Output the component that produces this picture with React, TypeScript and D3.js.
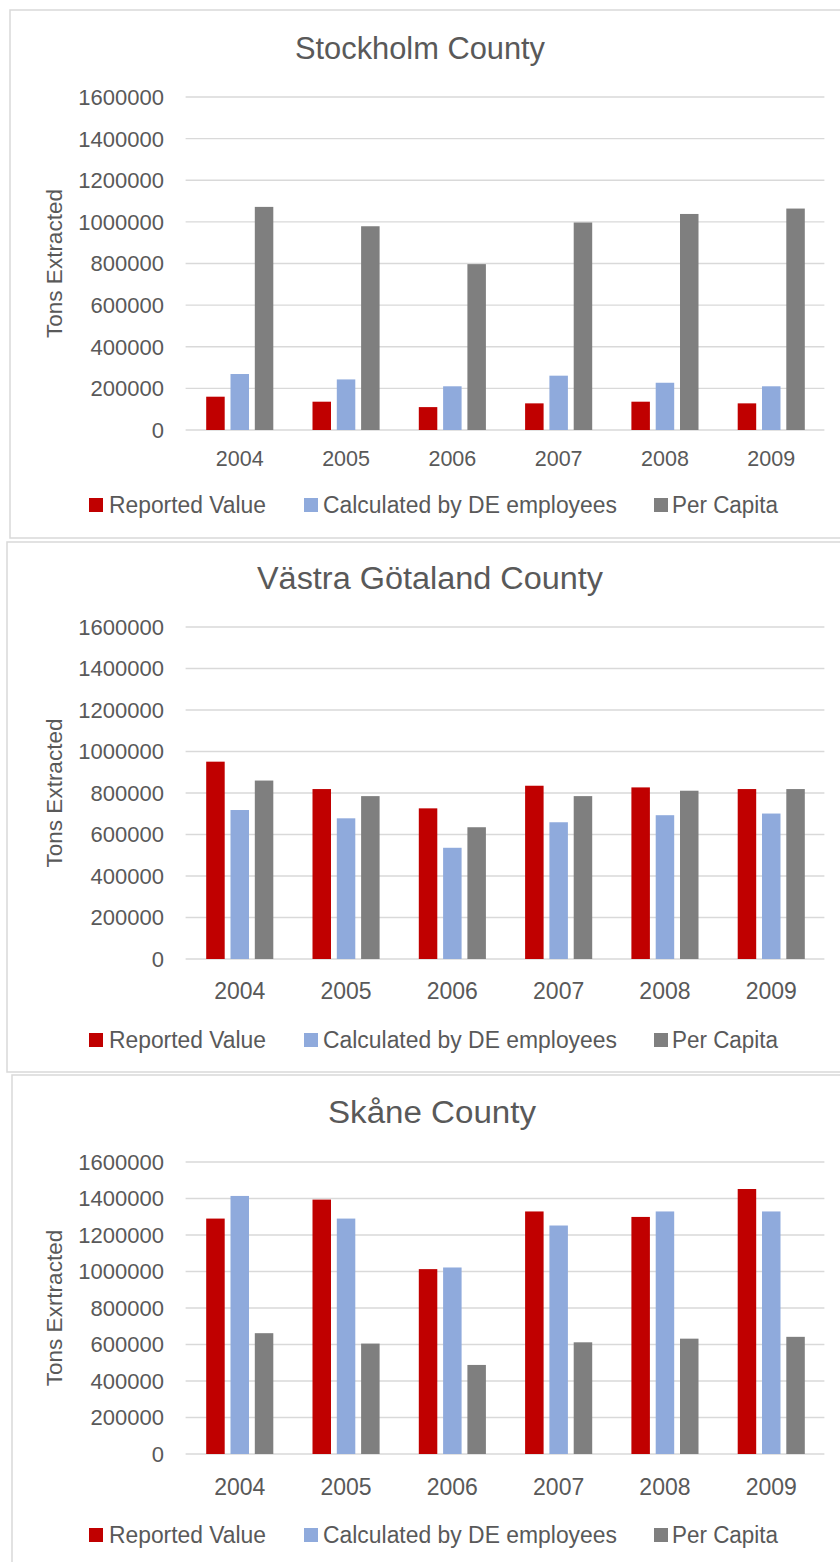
import React from 'react';
import * as d3 from 'd3';

const years = ['2004', '2005', '2006', '2007', '2008', '2009'];
const seriesNames = ['Reported Value', 'Calculated by DE employees', 'Per Capita'];
const seriesColors = ['#C00000', '#8FAADC', '#7F7F7F'];
const yTicks = [0, 200000, 400000, 600000, 800000, 1000000, 1200000, 1400000, 1600000];

const stockholmReported = [160000, 136000, 110000, 128000, 136000, 128000];
const stockholmCalculated = [269000, 243000, 210000, 261000, 227000, 210000];
const stockholmPerCapita = [1072000, 979000, 797000, 997000, 1038000, 1064000];

const vastraReported = [951000, 819000, 726000, 835000, 827000, 819000];
const vastraCalculated = [718000, 678000, 536000, 659000, 693000, 701000];
const vastraPerCapita = [860000, 785000, 635000, 785000, 811000, 819000];

const skaneReported = [1290000, 1394000, 1013000, 1329000, 1299000, 1452000];
const skaneCalculated = [1414000, 1290000, 1022000, 1252000, 1329000, 1329000];
const skanePerCapita = [662000, 605000, 488000, 612000, 632000, 642000];

const panelTitles = ['Stockholm County', 'Västra Götaland County', 'Skåne County'];
const yAxisTitles = ['Tons Extracted', 'Tons Extracted', 'Tons Exrtracted'];
const panelSeries = [
  [stockholmReported, stockholmCalculated, stockholmPerCapita],
  [vastraReported, vastraCalculated, vastraPerCapita],
  [skaneReported, skaneCalculated, skanePerCapita],
];

const layouts = [
  { boxX: 10, boxY: 10, boxB: 538, titleX: 420, titleW: 250, titleY: 59, top: 97, bottom: 430, xLabelY: 466, xFont: 21.5, legendY: 505 },
  { boxX: 7, boxY: 542, boxB: 1072, titleX: 430, titleW: 346, titleY: 589, top: 627, bottom: 959, xLabelY: 999, xFont: 23, legendY: 1040 },
  { boxX: 12, boxY: 1075, boxB: 1600, titleX: 432, titleW: 208, titleY: 1123, top: 1162, bottom: 1454, xLabelY: 1495, xFont: 23, legendY: 1535 },
];

const FONT = '"Liberation Sans", Arial, sans-serif';
const TEXT = '#595959';
const GRID = '#D9D9D9';

const legendSquareX = [89, 304, 654];
const legendTextX = [109, 323, 672];
const legendTextW = [157, 294, 106];

function Panel({ idx }: { idx: number }) {
  const L = layouts[idx];
  const data = panelSeries[idx];
  const x = d3.scaleBand<string>().domain(years).range([186.6, 824.4]).paddingInner(0).paddingOuter(0);
  const bw = x.bandwidth();
  const groupW = 67.1;
  const inner = d3
    .scaleBand<string>()
    .domain(seriesNames)
    .range([(bw - groupW) / 2, (bw + groupW) / 2])
    .paddingInner(0.239)
    .paddingOuter(0);
  const y = d3.scaleLinear().domain([0, 1600000]).range([L.bottom, L.top]);
  const xr = x.range();
  return (
    <g>
      <rect x={L.boxX} y={L.boxY} width={900} height={L.boxB - L.boxY} fill="#fff" stroke={GRID} strokeWidth={1.5} />
      <text
        x={L.titleX}
        y={L.titleY}
        textAnchor="middle"
        fontFamily={FONT}
        fontSize={31}
        fill={TEXT}
        textLength={L.titleW}
        lengthAdjust="spacingAndGlyphs"
      >
        {panelTitles[idx]}
      </text>
      {yTicks.map((t) => (
        <g key={t}>
          <line x1={xr[0] - 1} x2={xr[1]} y1={y(t)} y2={y(t)} stroke={GRID} strokeWidth={1.3} />
          <text x={164} y={y(t)} dy="0.36em" textAnchor="end" fontFamily={FONT} fontSize={22} fill={TEXT}>
            {t}
          </text>
        </g>
      ))}
      <text
        transform={`translate(62,${(L.top + L.bottom) / 2}) rotate(-90)`}
        textAnchor="middle"
        fontFamily={FONT}
        fontSize={22.5}
        fill={TEXT}
      >
        {yAxisTitles[idx]}
      </text>
      {years.map((yr, i) => (
        <g key={yr}>
          {seriesNames.map((s, j) => (
            <rect
              key={s}
              x={(x(yr) as number) + (inner(s) as number)}
              y={y(data[j][i])}
              width={inner.bandwidth()}
              height={y(0) - y(data[j][i])}
              fill={seriesColors[j]}
            />
          ))}
          <text
            x={(x(yr) as number) + bw / 2}
            y={L.xLabelY}
            textAnchor="middle"
            fontFamily={FONT}
            fontSize={L.xFont}
            fill={TEXT}
          >
            {yr}
          </text>
        </g>
      ))}
      {seriesNames.map((s, j) => (
        <g key={s}>
          <rect x={legendSquareX[j]} y={L.legendY - 7} width={14} height={14} fill={seriesColors[j]} />
          <text
            x={legendTextX[j]}
            y={L.legendY}
            dy="0.36em"
            fontFamily={FONT}
            fontSize={23}
            fill={TEXT}
            textLength={legendTextW[j]}
            lengthAdjust="spacingAndGlyphs"
          >
            {s}
          </text>
        </g>
      ))}
    </g>
  );
}

export default function App() {
  return (
    <svg
      width={840}
      height={1562}
      viewBox="0 0 840 1562"
      style={{ position: 'absolute', left: 0, top: 0, background: '#fff' }}
    >
      <rect x={0} y={0} width={840} height={1562} fill="#fff" />
      {[0, 1, 2].map((i) => (
        <Panel key={i} idx={i} />
      ))}
    </svg>
  );
}
